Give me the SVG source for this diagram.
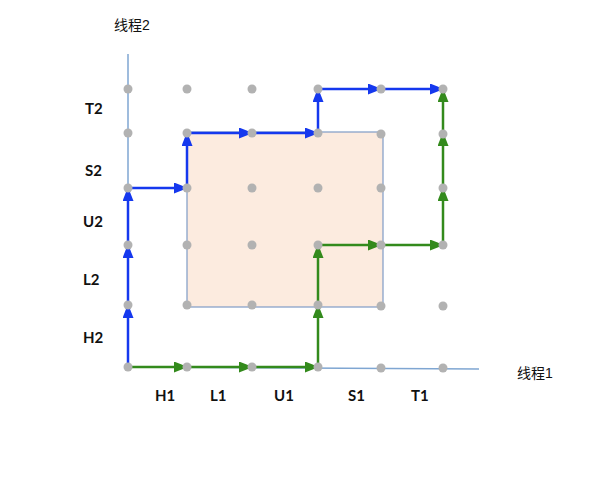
<svg xmlns="http://www.w3.org/2000/svg" width="609" height="477" viewBox="0 0 609 477">
<style>
.lbl{font-family:Lato,"Liberation Sans",Arial,sans-serif;font-size:15px;font-weight:bold;fill:#111}
.cjk{font-family:"Liberation Sans","Noto Sans CJK SC",sans-serif;font-size:14px;fill:#111}
.axis{stroke:#7fa6d2;stroke-width:1.5;fill:none}
.dot{fill:#b2b2b2}
.b{stroke:#1538ee;stroke-width:2.5;fill:none;marker-end:url(#ab)}
.g{stroke:#338a1c;stroke-width:2.5;fill:none;marker-end:url(#ag)}
</style>
<defs>
<marker id="ab" markerUnits="userSpaceOnUse" markerWidth="14" markerHeight="11" viewBox="0 0 14 11" refX="13" refY="5.5" orient="auto"><path d="M0,0 L14,5.5 L0,11 z" fill="#1538ee"/></marker>
<marker id="ag" markerUnits="userSpaceOnUse" markerWidth="14" markerHeight="11" viewBox="0 0 14 11" refX="13" refY="5.5" orient="auto"><path d="M0,0 L14,5.5 L0,11 z" fill="#338a1c"/></marker>
</defs>
<rect id="region" x="187" y="132" width="196" height="175" fill="#fcebdf" stroke="#7f9cc6" stroke-width="1.2"/>
<g id="axes">
<line class="axis" x1="128" y1="54" x2="128" y2="367"/>
<line class="axis" x1="128" y1="367" x2="479" y2="369"/>
</g>
<g id="connectors">
<line class="b" x1="128" y1="367" x2="128" y2="305"/>
<line class="b" x1="128" y1="305" x2="128" y2="245"/>
<line class="b" x1="128" y1="245" x2="128" y2="188"/>
<line class="b" x1="128" y1="188" x2="187" y2="188"/>
<line class="b" x1="187" y1="188" x2="187" y2="133"/>
<line class="b" x1="187" y1="133" x2="252" y2="133"/>
<line class="b" x1="252" y1="133" x2="318" y2="133"/>
<line class="b" x1="318" y1="133" x2="318" y2="89"/>
<line class="b" x1="318" y1="89" x2="381" y2="89"/>
<line class="b" x1="381" y1="89" x2="443" y2="89"/>
<line class="g" x1="128" y1="367" x2="187" y2="367"/>
<line class="g" x1="187" y1="367" x2="252" y2="367"/>
<line class="g" x1="252" y1="367" x2="318" y2="367"/>
<line class="g" x1="318" y1="367" x2="318" y2="305"/>
<line class="g" x1="318" y1="305" x2="318" y2="245"/>
<line class="g" x1="318" y1="245" x2="381" y2="245"/>
<line class="g" x1="381" y1="245" x2="443" y2="245"/>
<line class="g" x1="443" y1="245" x2="443" y2="188"/>
<line class="g" x1="443" y1="188" x2="443" y2="133"/>
<line class="g" x1="443" y1="133" x2="443" y2="89"/>
</g>
<g id="grid">
<circle class="dot" cx="128" cy="89" r="4.5"/><circle class="dot" cx="187" cy="89" r="4.5"/><circle class="dot" cx="252" cy="89" r="4.5"/><circle class="dot" cx="318" cy="89" r="4.5"/><circle class="dot" cx="381" cy="89" r="4.5"/><circle class="dot" cx="443" cy="89" r="4.5"/>
<circle class="dot" cx="128" cy="133" r="4.5"/><circle class="dot" cx="187" cy="133" r="4.5"/><circle class="dot" cx="252" cy="133" r="4.5"/><circle class="dot" cx="318" cy="133" r="4.5"/><circle class="dot" cx="381" cy="134" r="4.5"/><circle class="dot" cx="443" cy="134" r="4.5"/>
<circle class="dot" cx="128" cy="188" r="4.5"/><circle class="dot" cx="187" cy="188" r="4.5"/><circle class="dot" cx="252" cy="188" r="4.5"/><circle class="dot" cx="318" cy="188" r="4.5"/><circle class="dot" cx="381" cy="188" r="4.5"/><circle class="dot" cx="443" cy="188" r="4.5"/>
<circle class="dot" cx="128" cy="245" r="4.5"/><circle class="dot" cx="187" cy="245" r="4.5"/><circle class="dot" cx="252" cy="245" r="4.5"/><circle class="dot" cx="318" cy="245" r="4.5"/><circle class="dot" cx="381" cy="245" r="4.5"/><circle class="dot" cx="443" cy="245" r="4.5"/>
<circle class="dot" cx="128" cy="305" r="4.5"/><circle class="dot" cx="187" cy="305" r="4.5"/><circle class="dot" cx="252" cy="305" r="4.5"/><circle class="dot" cx="318" cy="305" r="4.5"/><circle class="dot" cx="381" cy="306" r="4.5"/><circle class="dot" cx="443" cy="306" r="4.5"/>
<circle class="dot" cx="128" cy="367" r="4.5"/><circle class="dot" cx="187" cy="367" r="4.5"/><circle class="dot" cx="252" cy="367" r="4.5"/><circle class="dot" cx="318" cy="367" r="4.5"/><circle class="dot" cx="381" cy="368" r="4.5"/><circle class="dot" cx="443" cy="368" r="4.5"/>
</g>
<g id="labels">
<text class="cjk" x="114" y="30">线程2</text>
<text class="cjk" x="517" y="378">线程1</text>
<text class="lbl" x="85" y="114">T2</text>
<text class="lbl" x="85" y="176">S2</text>
<text class="lbl" x="83" y="227">U2</text>
<text class="lbl" x="83" y="285">L2</text>
<text class="lbl" x="83" y="343">H2</text>
<text class="lbl" x="155" y="401">H1</text>
<text class="lbl" x="210" y="401">L1</text>
<text class="lbl" x="274" y="401">U1</text>
<text class="lbl" x="348" y="401">S1</text>
<text class="lbl" x="411" y="401">T1</text>
</g>
</svg>
